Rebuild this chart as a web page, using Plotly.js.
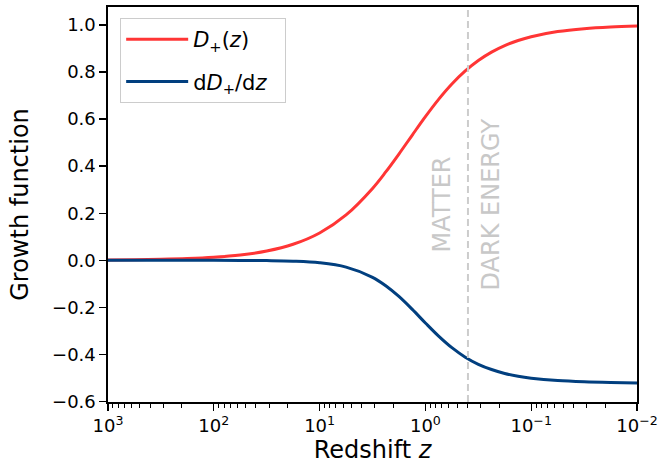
<!DOCTYPE html>
<html><head><meta charset="utf-8">
<script src="https://cdn.plot.ly/plotly-3.0.1.min.js"></script>
<style>html,body{margin:0;padding:0;background:#fff}#chart{width:659px;height:472px}</style>
</head><body><div id="chart"></div>
<script>
// ---- data ----
const redshift = [1000, 562, 316, 178, 100, 56.2, 31.6, 17.8, 10, 5.62, 3.16, 2.37, 1.78, 1.33, 1.0, 0.75, 0.562, 0.42, 0.316, 0.237, 0.178, 0.133, 0.1, 0.0562, 0.0316, 0.0178, 0.01];
const growthD = [0.0013, 0.0023, 0.0040, 0.0071, 0.0127, 0.0223, 0.0392, 0.0680, 0.1161, 0.1928, 0.3055, 0.3753, 0.4514, 0.5322, 0.6102, 0.6837, 0.7489, 0.8045, 0.8488, 0.8845, 0.9121, 0.9337, 0.9499, 0.9717, 0.9840, 0.9910, 0.9949];
const growthDeriv = [0, 0, 0, 0, -0.0001, -0.0004, -0.0012, -0.0036, -0.0106, -0.0290, -0.0722, -0.1079, -0.1537, -0.2087, -0.2662, -0.3221, -0.3713, -0.4117, -0.4419, -0.4641, -0.4808, -0.4928, -0.5009, -0.5111, -0.5164, -0.5192, -0.5208];
const seriesNames = ['<i>D</i><sub>+</sub>(<i>z</i>)  ', 'd<i>D</i><sub>+</sub>/d<i>z</i>  '];
const equalityZ = 0.396;
const eraLabels = ['MATTER', 'DARK ENERGY'];
const xTickVals = [1000, 100, 10, 1, 0.1, 0.01];
const xTickText = ['10<sup>3</sup>', '10<sup>2</sup>', '10<sup>1</sup>', '10<sup>0</sup>', '10<sup>\u22121</sup>', '10<sup>\u22122</sup>'];

// minor tick positions (2..9 x each decade)
const minorVals = [];
for (let k = -2; k <= 2; k++) for (let m = 2; m <= 9; m++) minorVals.push(m * Math.pow(10, k));

const FONT = 'DejaVu Sans, sans-serif';
const traces = [
  {x: redshift, y: growthD, name: seriesNames[0], mode: 'lines', legendgroup: 'a',
   line: {color: '#ff3535', width: 3, shape: 'spline', smoothing: 1}},
  {x: redshift, y: growthDeriv, name: seriesNames[1], mode: 'lines', legendgroup: 'b',
   line: {color: '#013f7f', width: 3, shape: 'spline', smoothing: 1}}
];
const layout = {
  width: 659, height: 472,
  margin: {l: 108, r: 22, t: 7, b: 70},
  paper_bgcolor: '#fff', plot_bgcolor: '#fff',
  font: {family: FONT, color: '#000', size: 18},
  showlegend: true,
  legend: {x: 0.023, y: 0.972, xanchor: 'left', yanchor: 'top', bgcolor: 'rgba(255,255,255,0.8)',
           bordercolor: '#cccccc', borderwidth: 1, font: {size: 21, family: FONT},
           itemwidth: 62, tracegroupgap: 12, traceorder: 'grouped'},
  xaxis: {type: 'log', range: [3, -2], showgrid: false, zeroline: false,
          showline: true, linecolor: '#000', linewidth: 1.6, mirror: true,
          ticks: 'outside', ticklen: 7, tickwidth: 1.3, tickcolor: '#000',
          tickmode: 'array', tickvals: xTickVals, ticktext: xTickText,
          tickfont: {size: 18, family: FONT},
          minor: {tickmode: 'array', tickvals: minorVals, ticks: 'outside', ticklen: 4, tickwidth: 1, tickcolor: '#000', showgrid: false},
          title: {text: 'Redshift <i>z</i>', font: {size: 24, family: FONT}, standoff: 6}},
  yaxis: {range: [-0.602, 1.076], showgrid: false, zeroline: false,
          showline: true, linecolor: '#000', linewidth: 1.6, mirror: true,
          ticks: 'outside', ticklen: 7, tickwidth: 1.3, tickcolor: '#000',
          tick0: 0, dtick: 0.2, tickformat: '.1f', tickfont: {size: 18, family: FONT},
          title: {text: 'Growth function', font: {size: 24, family: FONT}, standoff: 16}},
  shapes: [{type: 'line', xref: 'x', yref: 'paper', x0: equalityZ, x1: equalityZ, y0: 0, y1: 1,
            line: {color: '#cccccc', width: 2, dash: '7px,4px'}}],
  annotations: [
    {xref: 'x', yref: 'paper', x: Math.log10(equalityZ), y: 0.5, text: eraLabels[0], textangle: -90,
     showarrow: false, xanchor: 'right', yanchor: 'middle', xshift: -10, font: {size: 24, color: '#c8c8c8', family: FONT}},
    {xref: 'x', yref: 'paper', x: Math.log10(equalityZ), y: 0.5, text: eraLabels[1], textangle: -90,
     showarrow: false, xanchor: 'left', yanchor: 'middle', xshift: 7, font: {size: 24, color: '#c8c8c8', family: FONT}}
  ]
};
Plotly.newPlot('chart', traces, layout, {displayModeBar: false, staticPlot: true});
</script>
</body></html>
